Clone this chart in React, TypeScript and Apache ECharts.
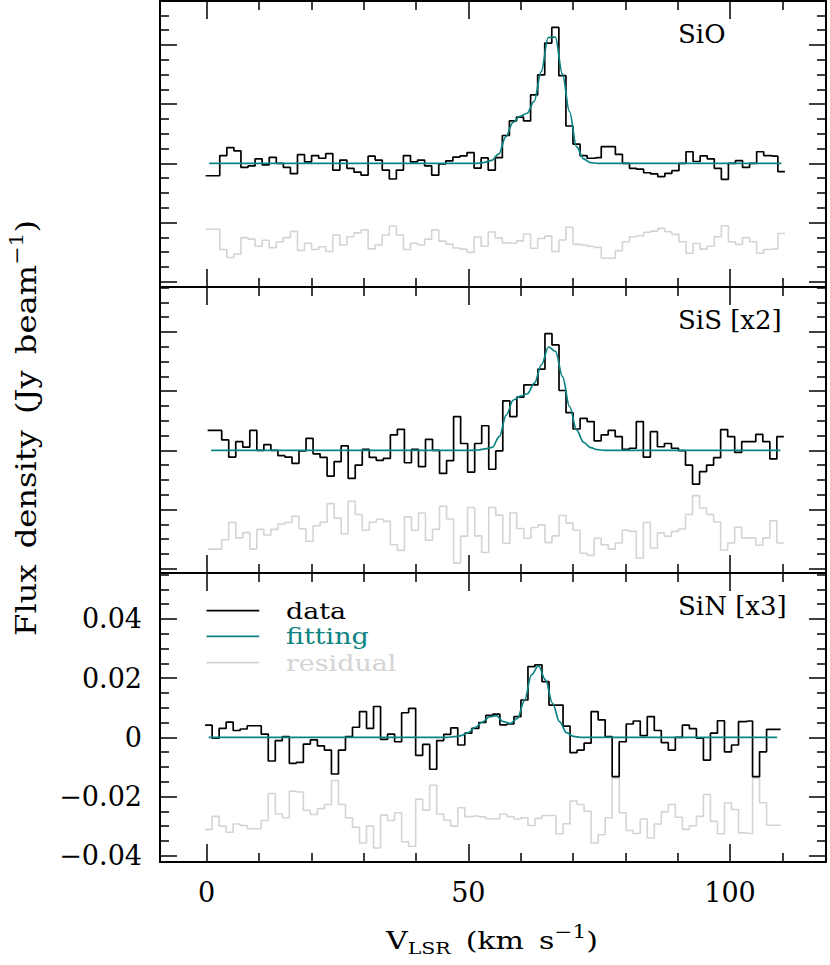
import React, { useEffect, useRef } from 'react';
import * as echarts from 'echarts';

// ---------- data ----------
// channel grid of every spectrum: first channel centre and channel width (km/s)
const SIO_V0 = 0.475;
const SIO_DV = 1.35;
const SIS_V0 = 0.856;
const SIS_DV = 1.3429;
const SIN_V0 = 0.37;
const SIN_DV = 1.3412;

const sioData = [
  -0.0042, -0.0042, 0.0026, 0.0053, 0.0042, -0.0014, -0.0009, 0.0015, -0.0005, 0.002,
  0.0, -0.0014, -0.0035, 0.0029, 0.0005, 0.0026, 0.0017, 0.0033, -0.0023, 0.0011,
  -0.0017, -0.003, -0.004, 0.0024, 0.0011, -0.0023, -0.0053, -0.0023, 0.0026, 0.0005,
  0.0011, -0.0009, -0.004, -0.0002, 0.0008, 0.0021, 0.0025, 0.0036, -0.0016, 0.0018,
  -0.0023, 0.0019, 0.0094, 0.0143, 0.0156, 0.0143, 0.0231, 0.0299, 0.0406, 0.0459,
  0.0296, 0.0126, 0.0065, 0.0026, 0.0017, 0.0019, 0.0056, 0.0056, 0.003, 0.0,
  -0.0017, -0.002, -0.0032, -0.0036, -0.0045, -0.0034, -0.0025, 0.0, 0.0039, 0.0006,
  0.0025, 0.0015, -0.0017, -0.0054, 0.0, 0.0009, -0.0014, 0.0, 0.0039, 0.0026,
  0.0024, -0.0028,
];
const sioFit = [
  0, 0, 0, 0, 0, 0, 0, 0, 0, 0,
  0, 0, 0, 0, 0, 0, 0, 0, 0, 0,
  0, 0, 0, 0, 0, 0, 0, 0, 0, 0,
  0, 0, 0, 0, 0, 0, 0, 0, 0, 0.0003,
  0.001, 0.0032, 0.009, 0.0138, 0.0159, 0.0169, 0.0209, 0.031, 0.0425, 0.0426,
  0.0302, 0.0175, 0.0056, 0.0015, 0.0002, 0, 0, 0, 0, 0,
  0, 0, 0, 0, 0, 0, 0, 0, 0, 0,
  0, 0, 0, 0, 0, 0, 0, 0, 0, 0,
  0, 0,
];

const sisData = [
  0.0067, 0.0067, 0.0035, -0.0023, 0.0029, 0.0011, 0.0067, 0.0, 0.0019, 0.0,
  -0.0018, -0.0023, -0.0044, -0.0002, 0.004, -0.0012, -0.0024, -0.0087, -0.0038, 0.0015,
  -0.0095, -0.005, 0.0003, -0.0024, -0.0034, -0.0027, 0.0052, 0.0071, -0.0042, 0.0003,
  -0.0055, 0.0037, 0.0, -0.0078, -0.0035, 0.0114, 0.0023, -0.0074, 0.0023, 0.0083,
  -0.0064, -0.0002, 0.0167, 0.0114, 0.018, 0.0221, 0.0221, 0.0274, 0.0394, 0.0356,
  0.0202, 0.0127, 0.0072, 0.0108, 0.0097, 0.0032, 0.0052, 0.0067, 0.0046, 0.0003,
  0.0007, 0.0097, -0.0023, 0.0063, 0.0012, 0.0023, 0.0007, -0.0001, -0.005, -0.0114,
  -0.0072, -0.005, -0.0025, 0.007, 0.0046, -0.0007, 0.0029, 0.0029, 0.0054, 0.0029,
  -0.0029, 0.0046,
];
const sisFit = [
  0, 0, 0, 0, 0, 0, 0, 0, 0, 0,
  0, 0, 0, 0, 0, 0, 0, 0, 0, 0,
  0, 0, 0, 0, 0, 0, 0, 0, 0, 0,
  0, 0, 0, 0, 0, 0, 0, 0, 0.0001, 0.0005,
  0.001, 0.0046, 0.012, 0.017, 0.0183, 0.0191, 0.0227, 0.0289, 0.0349, 0.0334,
  0.0249, 0.0148, 0.0069, 0.0027, 0.0009, 0.0002, 0, 0, 0, 0,
  0, 0, 0, 0, 0, 0, 0, 0, 0, 0,
  0, 0, 0, 0, 0, 0, 0, 0, 0, 0,
  0, 0,
];

const sinData = [
  0.0041, -0.0003, 0.003, 0.0051, 0.0023, 0.0028, 0.0039, 0.0039, 0.0011, -0.008,
  -0.0011, 0.0002, -0.0088, -0.0085, -0.0023, -0.0009, -0.0029, -0.0043, -0.0124, -0.0043,
  0.0002, 0.0034, 0.0087, 0.003, 0.0104, -0.0007, 0.0011, -0.0015, 0.0083, 0.0098,
  -0.0061, -0.0024, -0.0108, -0.0011, 0.001, 0.0032, -0.0026, 0.0014, 0.003, 0.005,
  0.0074, 0.0078, 0.0042, 0.0045, 0.007, 0.0126, 0.0239, 0.0245, 0.0188, 0.0109,
  0.0109, 0.0038, -0.0052, -0.0043, -0.002, 0.0087, 0.0059, 0.0002, -0.0133, -0.0015,
  0.0045, 0.0055, 0.0006, 0.007, 0.0023, -0.0018, -0.0043, 0.0, 0.0041, 0.0029,
  -0.0003, -0.0077, 0.0014, 0.0056, -0.0049, -0.0026, 0.0053, 0.0055, -0.0133, -0.0049,
  0.0027, 0.0027,
];
const sinFit = [
  0, 0, 0, 0, 0, 0, 0, 0, 0, 0,
  0, 0, 0, 0, 0, 0, 0, 0, 0, 0,
  0, 0, 0, 0, 0, 0, 0, 0, 0, 0,
  0, 0, 0, 0, 0, 0.0002, 0.0006, 0.0016, 0.0034, 0.0051,
  0.0069, 0.0073, 0.0053, 0.0047, 0.0064, 0.0124, 0.0211, 0.0241, 0.0194, 0.0115,
  0.0053, 0.0016, 0.0003, 0, 0, 0, 0, 0, 0, 0,
  0, 0, 0, 0, 0, 0, 0, 0, 0, 0,
  0, 0, 0, 0, 0, 0, 0, 0, 0, 0,
  0, 0,
];

// residual (fit - data) is drawn shifted down by this amount in each panel
const residualOffsets = [-0.0265, -0.0267, -0.027];
const panelLabels = ['SiO', 'SiS [x2]', 'SiN [x3]'];
const legendNames = ['data', 'fitting', 'residual'];
const xTickLabels = [0, 50, 100];

// ---------- layout / style ----------
const FONT = 'DejaVu Serif';
const TEAL = '#0b8383';
const GREY = '#d4d4d4';
const X_MIN = -8.92;
const X_MAX = 118.35;
const GRID_LEFT = 160;
const GRID_WIDTH = 666;
const panelsLayout = [
  { top: 1, height: 286, yMin: -0.04179, yMax: 0.05483 },
  { top: 287, height: 286, yMin: -0.04145, yMax: 0.05517 },
  { top: 573, height: 289, yMin: -0.04213, yMax: 0.05551 },
];
const SP = '\u2002'; // wide word space of the original plotting font

const spectra = [
  { v0: SIO_V0, dv: SIO_DV, data: sioData, fit: sioFit },
  { v0: SIS_V0, dv: SIS_DV, data: sisData, fit: sisFit },
  { v0: SIN_V0, dv: SIN_DV, data: sinData, fit: sinFit },
];

// histogram outline: channel centres plus the outer half-channel edges
function histPoints(v0: number, dv: number, ys: number[]) {
  const pts: number[][] = ys.map((y, i) => [v0 + i * dv, y]);
  const n = ys.length - 1;
  return [[v0 - dv / 2, ys[0]], ...pts, [v0 + n * dv + dv / 2, ys[n]]];
}

function yLabel(v: number) {
  const k = v / 0.02;
  if (Math.abs(k - Math.round(k)) > 1e-6) return '';
  const r = Math.round(k) * 0.02;
  if (Math.abs(r) < 1e-9) return '0';
  if (r < 0) return '\u2212' + (-r).toFixed(2);
  return r.toFixed(2);
}
function xLabel(v: number) {
  const hit = xTickLabels.find((t) => Math.abs(t - v) < 1e-6);
  return hit === undefined ? '' : String(hit);
}

function buildOption() {
  const grid = panelsLayout.map((p) => ({
    left: GRID_LEFT,
    top: p.top,
    width: GRID_WIDTH,
    height: p.height,
    containLabel: false,
    outerBoundsMode: 'none',
  }));

  const tickLine = { color: '#000', width: 1.5 };
  const xAxis: any[] = [];
  const yAxis: any[] = [];
  panelsLayout.forEach((p, i) => {
    ['bottom', 'top'].forEach((pos) => {
      xAxis.push({
        type: 'value',
        gridIndex: i,
        position: pos,
        min: X_MIN,
        max: X_MAX,
        minInterval: 50,
        maxInterval: 50,
        axisLine: { show: true, onZero: false, lineStyle: { color: '#000', width: 2 } },
        axisTick: { show: true, inside: true, length: 18, lineStyle: tickLine },
        minorTick: { show: true, splitNumber: 5, length: 9, lineStyle: tickLine },
        splitLine: { show: false },
        minorSplitLine: { show: false },
        axisLabel: {
          show: pos === 'bottom' && i === 2,
          margin: 17,
          fontSize: 27,
          fontFamily: FONT,
          color: '#000',
          showMinLabel: false,
          showMaxLabel: false,
          formatter: xLabel,
        },
      });
    });
    ['left', 'right'].forEach((pos) => {
      yAxis.push({
        type: 'value',
        gridIndex: i,
        position: pos,
        min: p.yMin,
        max: p.yMax,
        minInterval: 0.02,
        maxInterval: 0.02,
        axisLine: { show: true, onZero: false, lineStyle: { color: '#000', width: 2 } },
        axisTick: { show: true, inside: true, length: 17, lineStyle: tickLine },
        minorTick: { show: true, splitNumber: 4, length: 9, lineStyle: tickLine },
        splitLine: { show: false },
        minorSplitLine: { show: false },
        axisLabel: {
          show: pos === 'left' && i === 2,
          margin: 18,
          fontSize: 27,
          fontFamily: FONT,
          color: '#000',
          showMinLabel: false,
          showMaxLabel: false,
          formatter: yLabel,
        },
      });
    });
  });

  const series: any[] = [];
  spectra.forEach((s, i) => {
    const residual = s.data.map((y, k) => s.fit[k] - y + residualOffsets[i]);
    const common = {
      type: 'line',
      xAxisIndex: 2 * i,
      yAxisIndex: 2 * i,
      symbol: 'none',
      silent: true,
    };
    series.push({
      ...common,
      name: legendNames[2],
      step: 'middle',
      data: histPoints(s.v0, s.dv, residual),
      lineStyle: { color: GREY, width: 1.6 },
      z: 1,
    });
    series.push({
      ...common,
      name: legendNames[0],
      step: 'middle',
      data: histPoints(s.v0, s.dv, s.data),
      lineStyle: { color: '#000', width: 1.7 },
      z: 2,
    });
    series.push({
      ...common,
      name: legendNames[1],
      smooth: 0.35,
      smoothMonotone: 'x',
      data: s.fit.map((y, k) => [s.v0 + k * s.dv, y]),
      lineStyle: { color: TEAL, width: 1.7 },
      z: 3,
    });
  });

  const graphic: any[] = [];
  panelLabels.forEach((t, i) => {
    graphic.push({
      type: 'text',
      left: 678,
      top: panelsLayout[i].top + 20,
      style: { text: t, font: `26px "${FONT}"`, fill: '#000' },
    });
  });
  const legendColors = ['#000', TEAL, GREY];
  const legendY = [610.7, 636.3, 662.7];
  legendNames.forEach((n, i) => {
    graphic.push({
      type: 'line',
      shape: { x1: 206.5, y1: legendY[i], x2: 259.3, y2: legendY[i] },
      style: { stroke: legendColors[i], lineWidth: 1.7 },
    });
    graphic.push({
      type: 'text',
      x: 286,
      y: legendY[i],
      scaleX: 1.17,
      style: {
        text: n,
        font: `23px "${FONT}"`,
        lineHeight: 24,
        fill: legendColors[i],
        align: 'left',
        verticalAlign: 'middle',
        textAlign: 'left',
        textVerticalAlign: 'middle',
      },
    });
  });
  // axis titles
  graphic.push({
    type: 'text',
    x: 492,
    y: 940,
    scaleX: 1.2,
    style: {
      text: `{m|V}{s|LSR}{m|${SP}(km${SP}s}{u|\u22121}{m|)}`,
      align: 'center',
      verticalAlign: 'middle',
      textAlign: 'center',
      textVerticalAlign: 'middle',
      rich: {
        m: { fontSize: 25, fontFamily: FONT, fill: '#000', color: '#000', lineHeight: 34 },
        s: { fontSize: 17, fontFamily: FONT, fill: '#000', color: '#000', verticalAlign: 'bottom', lineHeight: 18 },
        u: { fontSize: 18, fontFamily: FONT, fill: '#000', color: '#000', verticalAlign: 'top', lineHeight: 18 },
      },
    },
  });
  graphic.push({
    type: 'text',
    x: 26,
    y: 428,
    rotation: Math.PI / 2,
    scaleX: 1.15,
    style: {
      text: `{m|Flux${SP}density${SP}(Jy${SP}beam}{u|\u22121}{m|)}`,
      align: 'center',
      verticalAlign: 'middle',
      textAlign: 'center',
      textVerticalAlign: 'middle',
      rich: {
        m: { fontSize: 28, fontFamily: FONT, fill: '#000', color: '#000', lineHeight: 38 },
        u: { fontSize: 19, fontFamily: FONT, fill: '#000', color: '#000', verticalAlign: 'top', lineHeight: 20 },
      },
    },
  });

  return {
    animation: false,
    backgroundColor: '#fff',
    grid,
    xAxis,
    yAxis,
    series,
    graphic,
  };
}

export default function App() {
  const ref = useRef<HTMLDivElement>(null);
  useEffect(() => {
    document.body.style.margin = '0';
    const chart = echarts.init(ref.current!, null, { renderer: 'svg' });
    chart.setOption(buildOption() as any);
    return () => chart.dispose();
  }, []);
  return <div ref={ref} style={{ width: 830, height: 965 }} />;
}
